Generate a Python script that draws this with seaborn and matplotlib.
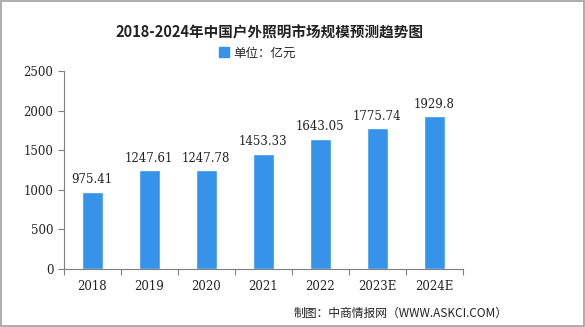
import matplotlib
matplotlib.use("Agg")
import matplotlib.pyplot as plt
import seaborn as sns
import pandas as pd
from matplotlib.patches import Rectangle, Patch
from matplotlib.ticker import FixedLocator

years = ["2018", "2019", "2020", "2021", "2022", "2023E", "2024E"]
values = [975.41, 1247.61, 1247.78, 1453.33, 1643.05, 1775.74, 1929.8]
labels = ["975.41", "1247.61", "1247.78", "1453.33", "1643.05", "1775.74", "1929.8"]
yticks = [0, 500, 1000, 1500, 2000, 2500]

sns.set_theme(style="white")
plt.rcParams['font.family'] = ['Noto Sans CJK SC', 'DejaVu Sans']

bar_color = "#3593ea"
df = pd.DataFrame({"year": years, "value": values})

fig = plt.figure(figsize=(5.85, 3.27), dpi=100)
ax = fig.add_axes([0.109, 0.177, 0.682, 0.606])
sns.barplot(data=df, x="year", y="value", color=bar_color, width=0.37,
            saturation=1, ax=ax)

ax.set_xlim(-0.5, 6.5)
ax.set_ylim(0, 2500)
ax.set_yticks(yticks)
ax.set_xlabel("")
ax.set_ylabel("")
for s in ["top", "right"]:
    ax.spines[s].set_visible(False)
for s in ["left", "bottom"]:
    ax.spines[s].set_color("#808080")
    ax.spines[s].set_linewidth(0.8)

ax.xaxis.set_minor_locator(FixedLocator([i - 0.5 for i in range(8)]))
ax.tick_params(axis="x", which="major", length=0, pad=8, labelsize=8.5, colors="#222222")
ax.tick_params(axis="x", which="minor", length=4, width=0.8, color="#808080", bottom=True, direction="out")
ax.tick_params(axis="y", length=4, width=0.8, color="#808080", left=True, labelsize=8.5, colors="#222222")
for t in ax.get_xticklabels() + ax.get_yticklabels():
    t.set_family(["DejaVu Serif"])

for i, (v, lab) in enumerate(zip(values, labels)):
    ax.text(i, v + 70, lab, ha="center", va="bottom", fontsize=8.5,
            family=["DejaVu Serif"], color="#222222")

fig.text(0.46, 0.9, "2018-2024年中国户外照明市场规模预测趋势图", ha="center", va="center",
         fontsize=10.5, fontweight="bold", color="#222222")
fig.legend(handles=[Patch(color=bar_color, label="单位：亿元")], loc="center",
           bbox_to_anchor=(0.44, 0.838), frameon=False, fontsize=9,
           handlelength=0.8, handleheight=0.8, handletextpad=0.3)
fig.text(0.868, 0.043, "制图：中商情报网（WWW.ASKCI.COM）", ha="right", va="center",
         fontsize=8.5, color="#222222")

fig.patches.append(Rectangle((0.002, 0.003), 0.996, 0.994, transform=fig.transFigure,
                             fill=False, edgecolor="#a0a0a0", linewidth=1.2))

fig.savefig("out.png", dpi=100)
